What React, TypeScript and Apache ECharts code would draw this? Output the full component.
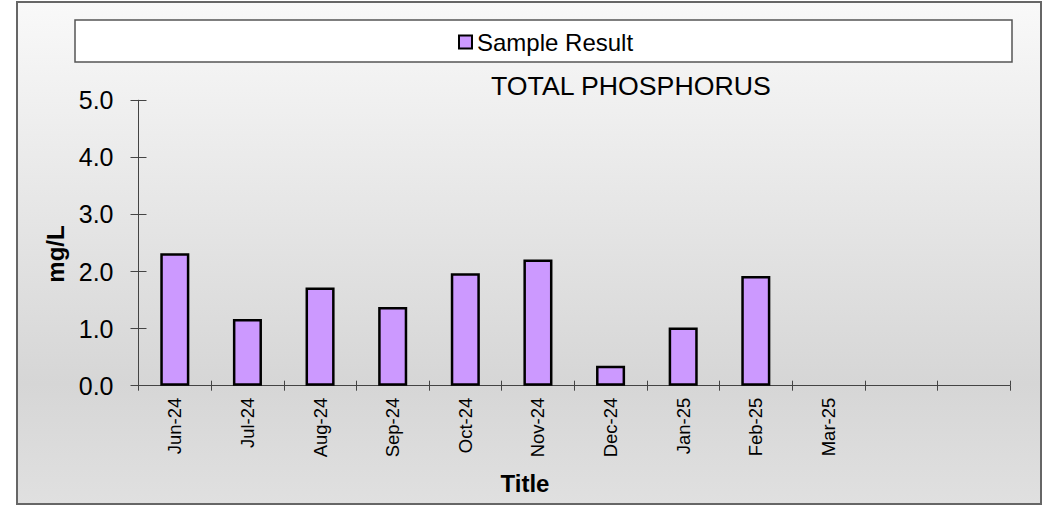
import React, { useEffect, useRef } from "react";
import * as echarts from "echarts";

const categories = ["Jun-24", "Jul-24", "Aug-24", "Sep-24", "Oct-24", "Nov-24", "Dec-24", "Jan-25", "Feb-25", "Mar-25", "", ""];
const sampleResult = [2.32, 1.17, 1.72, 1.38, 1.97, 2.21, 0.35, 1.02, 1.92, null, null, null];
const yTicks = { min: 0, max: 5, interval: 1 };

const FONT = "'Liberation Sans', Arial, sans-serif";

export default function App() {
  const ref = useRef<HTMLDivElement>(null);
  useEffect(() => {
    if (!ref.current) return;
    const chart = echarts.init(ref.current, null, { renderer: "svg" });
    chart.setOption({
      animation: false,
      textStyle: { fontFamily: FONT },
      graphic: [
        {
          type: "rect",
          z: -10,
          shape: { x: 17, y: 2, width: 1024, height: 502 },
          style: {
            fill: new echarts.graphic.LinearGradient(0, 0, 0, 1, [
              { offset: 0, color: "#f9f9f9" },
              { offset: 0.76, color: "#d6d6d6" },
              { offset: 1, color: "#e0e0e0" },
            ]),
            stroke: "#666",
            lineWidth: 2,
          },
        },
        {
          type: "rect",
          z: -5,
          shape: { x: 75, y: 20, width: 937, height: 42 },
          style: { fill: "#fff", stroke: "#555", lineWidth: 1.5 },
        },
        {
          type: "text",
          x: 55,
          y: 254,
          rotation: Math.PI / 2,
          style: {
            text: "mg/L",
            fontSize: 24,
            fontWeight: "bold",
            fontFamily: FONT,
            fill: "#000",
            align: "center",
            verticalAlign: "middle",
          },
        },
        {
          type: "text",
          x: 525,
          y: 483,
          style: {
            text: "Title",
            fontSize: 24,
            fontWeight: "bold",
            fontFamily: FONT,
            fill: "#000",
            align: "center",
            verticalAlign: "middle",
          },
        },
      ],
      title: {
        text: "TOTAL PHOSPHORUS",
        left: 491,
        top: 72,
        padding: 0,
        textStyle: { fontSize: 26.7, fontWeight: "normal", color: "#000", fontFamily: FONT },
      },
      legend: {
        left: 458,
        top: 30,
        padding: 0,
        itemWidth: 13,
        itemHeight: 13,
        itemGap: 5,
        icon: "rect",
        textStyle: { fontSize: 24, color: "#000", fontFamily: FONT, lineHeight: 24 },
        data: ["Sample Result"],
      },
      grid: { left: 138.5, right: 36, top: 100.2, bottom: 121.3, containLabel: false },
      xAxis: [
        {
          type: "category",
          data: categories,
          position: "bottom",
          boundaryGap: true,
          axisLine: { lineStyle: { color: "#444", width: 1 } },
          axisTick: { show: true, length: 5, lineStyle: { color: "#444" }, alignWithLabel: false, interval: 0 },
          axisLabel: { rotate: 90, fontSize: 18.5, color: "#000", margin: 12, interval: 0, fontFamily: FONT },
          splitLine: { show: false },
        },
        {
          type: "category",
          data: categories,
          position: "bottom",
          boundaryGap: true,
          axisLine: { show: false },
          axisTick: { show: true, inside: true, length: 5, lineStyle: { color: "#444" }, interval: 0 },
          axisLabel: { show: false },
          splitLine: { show: false },
        },
      ],
      yAxis: [
        {
          type: "value",
          ...yTicks,
          position: "left",
          axisLine: { show: true, lineStyle: { color: "#444", width: 1 } },
          axisTick: { show: true, length: 8, lineStyle: { color: "#444" } },
          axisLabel: { fontSize: 25, color: "#000", margin: 25, formatter: (v: number) => v.toFixed(1), fontFamily: FONT },
          splitLine: { show: false },
        },
        {
          type: "value",
          ...yTicks,
          position: "left",
          axisLine: { show: false },
          axisTick: { show: true, inside: true, length: 8, lineStyle: { color: "#444" } },
          axisLabel: { show: false },
          splitLine: { show: false },
        },
      ],
      series: [
        {
          name: "Sample Result",
          type: "bar",
          xAxisIndex: 0,
          yAxisIndex: 0,
          data: sampleResult,
          barWidth: "40%",
          itemStyle: { color: "#cc99ff", borderColor: "#000", borderWidth: 2.5 },
        },
      ],
    });
    return () => chart.dispose();
  }, []);
  return <div ref={ref} style={{ position: "absolute", left: 0, top: 0, width: 1046, height: 507 }} />;
}
